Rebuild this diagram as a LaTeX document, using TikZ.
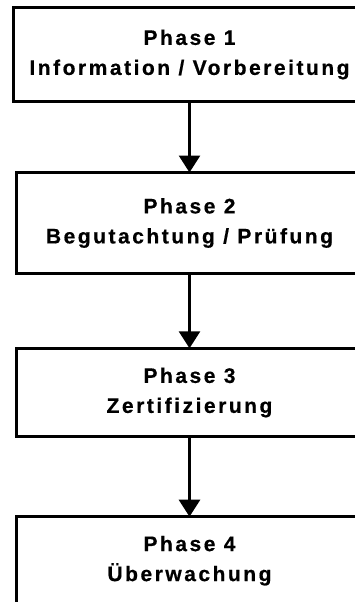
\documentclass[tikz,border=0pt]{standalone}
\usepackage{fontspec}
\setmainfont{Liberation Sans}[LetterSpace=12,BoldFeatures={FakeBold=0.6}]
\usetikzlibrary{arrows.meta}
\begin{document}
\begin{tikzpicture}[x=1pt,y=1pt,
  phasebox/.style={draw=black,line width=2.8pt,rectangle,outer sep=0pt,inner sep=0pt,
    align=center,font=\fontsize{21}{30}\selectfont\bfseries},
  flow/.style={line width=2.8pt,-{Triangle[width=21pt,length=17pt]}}]
\useasboundingbox (0,0) rectangle (355,-602);
\clip (0,0) rectangle (355,-602);
\node[phasebox,minimum width=352pt,minimum height=94pt] (b1) at (189.5,-54.5) {Phase 1\\Information / Vorbereitung};
\node[phasebox,minimum width=346pt,minimum height=101pt] (b2) at (189.5,-223) {Phase 2\\Begutachtung / Prüfung};
\node[phasebox,minimum width=346pt,minimum height=88.4pt] (b3) at (189.5,-392.5) {Phase 3\\Zertifizierung};
\node[phasebox,minimum width=346pt,minimum height=88pt] (b4) at (189.5,-560.7) {Phase 4\\Überwachung};
\draw[flow] (b1.south) -- (b2.north);
\draw[flow] (b2.south) -- (b3.north);
\draw[flow] (b3.south) -- (b4.north);
\end{tikzpicture}
\end{document}
